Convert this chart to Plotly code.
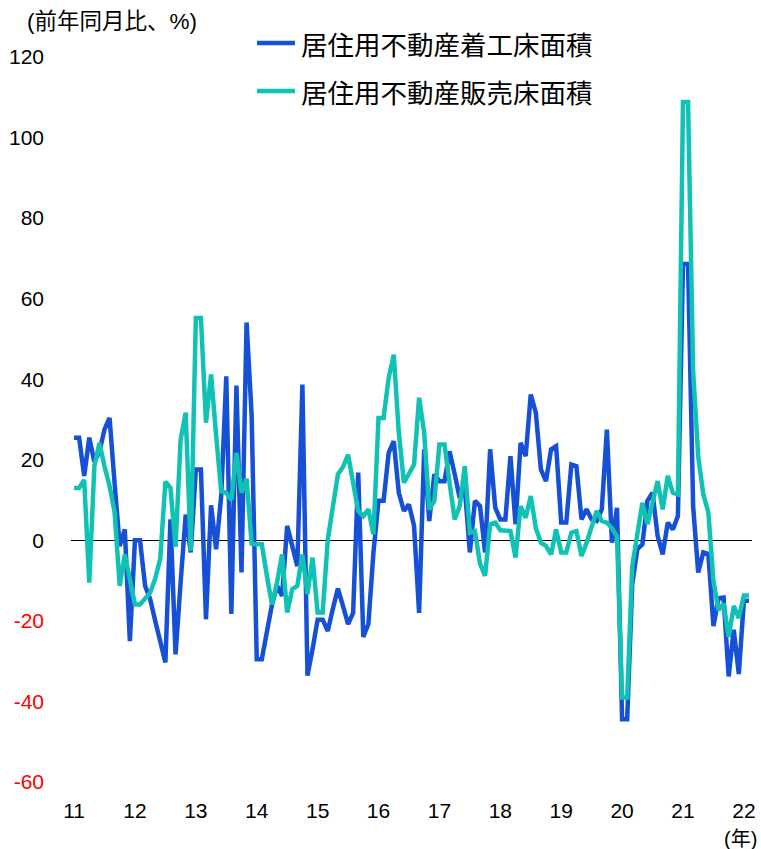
import plotly.graph_objects as go

# Monthly data, Jan 2011 - Feb 2022 (Jan/Feb combined -> equal values)
years = ["11", "12", "13", "14", "15", "16", "17", "18", "19", "20", "21", "22"]

starts_yoy = [
    25.5, 25.5, 16, 25.5, 19.5, 22, 27.5, 30.4, 14, -1.4, 2.7, -25,
    0, 0, -11.3, -14.6, -20, -25, -30.3, 5.2, -28.3, -10.5, 6.4, -3,
    17.6, 17.6, -19.6, 8.7, -2.2, 11, 40.7, -18.3, 38.4, -8, 54.1, 31,
    -29.5, -29.5, -23, -16, -11.3, -13.8, 3.6, -1.4, -6.4, 38.7, -33.6, -27,
    -19.7, -19.7, -22.5, -17, -12, -16.3, -20.8, -18, 16.8, -24, -20.8, -3,
    9.8, 9.8, 21.7, 24.6, 11.8, 7.3, 8.9, 3.6, -18, 22.6, 4.8, 16.4,
    14.7, 14.7, 22.1, 16.5, 10.5, 13, -3, 9.8, 8.5, -3, 22.6, 8.1,
    5.2, 5.2, 20.9, 4, 24.2, 20.9, 36.2, 31.7, 17.6, 14.7, 22.6, 23.4,
    4.4, 4.4, 18.8, 18.4, 5.2, 7.7, 5.2, 4.8, 7.7, 27.5, -0.6, 8.1,
    -44.4, -44.4, -10.9, -2.2, -1, 9.8, 11.8, 1.1, -3.5, 4.4, 2.7, 6,
    68.6, 68.6, 8.4, -8, -3, -3.4, -21.3, -14.4, -14.2, -33.8, -22.2, -33.2,
    -15, -15,
]

sales_yoy = [
    13, 13, 15, -10.5, 18.4, 24.2, 18.4, 13.5, 6.9, -11.3, -3.5, -9.5,
    -15.9, -15.9, -14.4, -13, -9.5, -4.5, 14.6, 13, -1.6, 25, 31.7, -2.6,
    55.2, 55.2, 29.2, 41.2, 26, 12.2, 11.8, 10, 21.7, 11.8, 15.3, -0.8,
    -1, -1, -8.8, -15.9, -10.5, -3.5, -17.9, -12.1, -11.3, -3.5, -13.4, -4.3,
    -17.9, -17.9, 0.2, 8.5, 16.4, 18.2, 21.3, 14.3, 7.3, 6, 7.7, 1.5,
    30.4, 30.4, 40.3, 46.1, 26.7, 14.3, 16.4, 18.8, 35.4, 26.7, 7.7, 9.8,
    23.8, 23.8, 14.3, 5.2, 8.5, 18.4, 1.9, 2.3, -5.8, -8.8, 4, 4.4,
    2.5, 2.5, 2.3, -4.3, 8.5, 5.6, 11, 3.1, -0.6, -1.4, -3.5, 2.7,
    -3, -3, 1.9, 2.3, -3.9, -0.6, 3.6, 7.3, 4.8, 4.4, 3, 1,
    -39, -39, -6.4, 1.5, 9.3, 4, 9.3, 14.7, 7.7, 16, 11.8, 11.4,
    108.8, 108.8, 42, 20.8, 11.5, 6.9, -10, -17.3, -15.7, -24, -16.3, -19.3,
    -13.7, -13.7,
]

y_ticks = [120, 100, 80, 60, 40, 20, 0, -20, -40, -60]

series_names = ["居住用不動産着工床面積", "居住用不動産販売床面積"]
colors = ["#1650d6", "#10c2b4"]

months = list(range(len(starts_yoy)))

# plot area geometry in pixels
L, R, T, B = 71, 752, 57, 782
PW, PH = R - L, B - T


def px(x):
    return (x - L) / PW


def py(y):
    return (B - y) / PH


fig = go.Figure()
for name, vals, col in zip(series_names, [starts_yoy, sales_yoy], colors):
    fig.add_trace(go.Scatter(
        x=months, y=vals, mode="lines", name=name,
        line=dict(color=col, width=4.5),
    ))

ytext = [f"<span style='color:red'>{v}</span>" if v < 0 else str(v) for v in y_ticks]

FONT = "Liberation Sans, Arial, Noto Sans CJK JP, sans-serif"

shapes = []
annotations = [
    dict(text="(前年同月比、%)", xref="paper", yref="paper",
         x=px(25), y=py(22), xanchor="left", yanchor="middle",
         showarrow=False, font=dict(size=22.5)),
    dict(text="(年)", xref="paper", yref="paper",
         x=px(740), y=py(839), xanchor="center", yanchor="middle",
         showarrow=False, font=dict(size=20)),
]
for i, (name, col) in enumerate(zip(series_names, colors)):
    yy = 43 + 48 * i
    shapes.append(dict(type="line", xref="paper", yref="paper",
                       x0=px(257), x1=px(295), y0=py(yy), y1=py(yy),
                       line=dict(color=col, width=4.5)))
    annotations.append(dict(text=name, xref="paper", yref="paper",
                            x=px(299), y=py(yy), xanchor="left", yanchor="middle",
                            showarrow=False,
                            font=dict(size=26.5, family="Noto Sans CJK JP, sans-serif")))

fig.update_layout(
    width=761, height=849,
    margin=dict(l=L, r=761 - R, t=T, b=849 - B, autoexpand=False),
    plot_bgcolor="white", paper_bgcolor="white",
    font=dict(family=FONT, size=21, color="black"),
    showlegend=False,
    xaxis=dict(
        range=[-0.6, 133.6], tickmode="array",
        tickvals=[12 * i for i in range(len(years))], ticktext=years,
        showgrid=False, zeroline=False, showline=False, ticks="",
        tickfont=dict(size=21), automargin=False, ticklabelstandoff=14,
    ),
    yaxis=dict(
        range=[-60, 120], tickmode="array", tickvals=y_ticks, ticktext=ytext,
        showgrid=False, zeroline=True, zerolinecolor="black", zerolinewidth=1,
        showline=False, ticks="", ticklabelstandoff=26,
        tickfont=dict(size=21), automargin=False,
    ),
    shapes=shapes,
    annotations=annotations,
)

fig.write_html(
    "out.html",
    config={"displayModeBar": False},
    post_script="document.body.style.margin='0';document.body.style.padding='0';",
)
